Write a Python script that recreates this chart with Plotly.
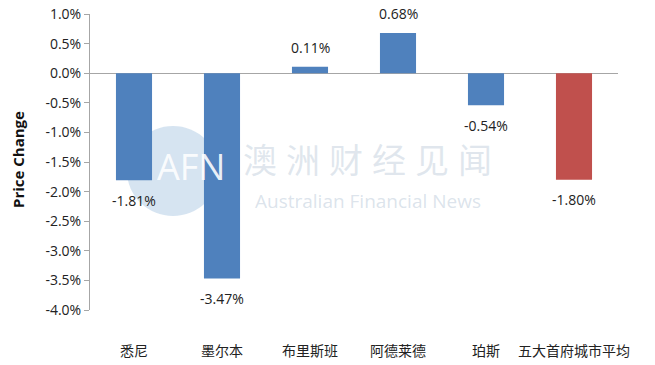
import plotly.graph_objects as go

categories = ["悉尼", "墨尔本", "布里斯班", "阿德莱德", "珀斯", "五大首府城市平均"]
values = [-1.81, -3.47, 0.11, 0.68, -0.54, -1.80]
colors = ["#4F81BD", "#4F81BD", "#4F81BD", "#4F81BD", "#4F81BD", "#C0504D"]
tick_vals = [1.0, 0.5, 0.0, -0.5, -1.0, -1.5, -2.0, -2.5, -3.0, -3.5, -4.0]
tick_text = [f"{v:.1f}%" for v in tick_vals]
labels = [f"{v:.2f}%" for v in values]
watermark_chars = ["澳", "洲", "财", "经", "见", "闻"]

font_family = "Open Sans, Liberation Sans, Noto Sans CJK SC, sans-serif"

fig = go.Figure()
fig.add_trace(go.Bar(
    x=categories, y=values, marker_color=colors, marker_line_width=0,
    hoverinfo="x+y",
))

for c, v, t in zip(categories, values, labels):
    fig.add_annotation(x=c, y=v, text=t, showarrow=False,
                       yshift=19 if v > 0 else -20,
                       font=dict(size=14, color="#222222", family=font_family))

fig.update_layout(
    width=655, height=365,
    margin=dict(l=90, r=37, t=14, b=55, autoexpand=False),
    plot_bgcolor="white", paper_bgcolor="white",
    bargap=0.59, showlegend=False,
    font=dict(family=font_family, color="#222222"),
    xaxis=dict(
        automargin=False,
        showline=False, showgrid=False, zeroline=False,
        ticks="outside", ticklen=28, tickcolor="rgba(0,0,0,0)",
        tickfont=dict(size=14, family="Noto Sans CJK SC, sans-serif", color="#222222"),
    ),
    yaxis=dict(
        automargin=False,
        range=[-4.0, 1.0], tickvals=tick_vals, ticktext=tick_text,
        showgrid=False, showline=True, linecolor="#A6A6A6", linewidth=1,
        ticks="outside", ticklen=5, tickcolor="#A6A6A6",
        zeroline=True, zerolinecolor="#A6A6A6", zerolinewidth=1,
        tickfont=dict(size=14, color="#222222"),
    ),
)

def px(x):
    return (x - 90) / 528

def py(y):
    return (310 - y) / 296

fig.add_annotation(text="<b>Price Change</b>", xref="paper", yref="paper",
                   x=px(18), y=py(160), textangle=-90, xanchor="center", yanchor="middle",
                   showarrow=False, font=dict(size=15, color="#111111", family=font_family))

# watermark
fig.add_shape(type="circle", xref="paper", yref="paper",
              x0=px(127), x1=px(219), y0=py(216), y1=py(126),
              fillcolor="rgba(165,195,225,0.45)", line_width=0, layer="below")
fig.add_annotation(text="AFN", xref="paper", yref="paper",
                   x=px(191), y=py(166), xanchor="center", yanchor="middle", showarrow=False,
                   font=dict(size=36, color="rgba(255,255,255,0.9)", family=font_family))
for i, ch in enumerate(watermark_chars):
    fig.add_annotation(text=ch, xref="paper", yref="paper",
                       x=px(260 + 43 * i), y=py(158), xanchor="center", yanchor="middle",
                       showarrow=False,
                       font=dict(size=34, color="rgba(165,185,205,0.35)", family="Noto Sans CJK SC"))
fig.add_annotation(text="Australian Financial News", xref="paper", yref="paper",
                   x=px(368), y=py(201), xanchor="center", yanchor="middle", showarrow=False,
                   font=dict(size=19, color="rgba(165,185,205,0.4)", family=font_family))

fig.write_html("out.html", config={"displayModeBar": False},
               post_script="document.body.style.margin='0';document.body.style.overflow='hidden';")
